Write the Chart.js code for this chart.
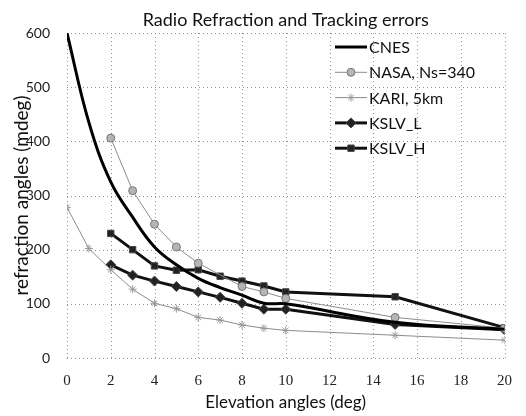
<!DOCTYPE html>
<html>
<head>
<meta charset="utf-8">
<script src="https://cdn.jsdelivr.net/npm/chart.js@4.4.1/dist/chart.umd.min.js"></script>
<style>
  html, body { margin: 0; padding: 0; background: #fff; }
  #wrap { width: 526px; height: 416px; }
</style>
</head>
<body>
<div id="wrap"><canvas id="c" width="526" height="416"></canvas></div>
<script>
// Elevation angles (deg) and refraction angles (mdeg) per model
const cnesX  = [0, 1, 2, 3, 4, 5, 6, 7, 8, 9, 10, 15, 20];
const cnesY  = [600, 435, 325, 260, 205, 172, 147, 130, 116, 101, 100, 66, 53];

const nasaX  = [2, 3, 4, 5, 6, 8, 9, 10, 15, 20];
const nasaY  = [406, 309, 247, 205, 175, 132, 122, 110, 75, 55];

const kariX  = [0, 1, 2, 3, 4, 5, 6, 7, 8, 9, 10, 15, 20];
const kariY  = [278, 202, 163, 127, 101, 91, 75, 70, 61, 55, 51, 42, 33];

const kslvLX = [2, 3, 4, 5, 6, 7, 8, 9, 10, 15, 20];
const kslvLY = [172, 153, 142, 132, 122, 112, 101, 90, 90, 62, 52];

const kslvHX = [2, 3, 4, 5, 6, 7, 8, 9, 10, 15, 20];
const kslvHY = [230, 200, 170, 162, 163, 151, 142, 133, 122, 113, 56];

const seriesNames = ['CNES', 'NASA, Ns=340', 'KARI, 5km', 'KSLV_L', 'KSLV_H'];
const xTicks = [0, 2, 4, 6, 8, 10, 12, 14, 16, 18, 20];
const yTicks = [0, 100, 200, 300, 400, 500, 600];

const pts = (xs, ys) => xs.map((x, i) => ({ x: x, y: ys[i] }));

// Dotted grid at every tick of both scales
const dottedGrid = {
  id: 'dottedGrid',
  beforeDatasetsDraw(chart) {
    const ctx = chart.ctx;
    const a = chart.chartArea;
    const xs = chart.scales.x, ys = chart.scales.y;
    ctx.save();
    ctx.strokeStyle = '#8f8f8f';
    ctx.lineWidth = 1;
    ctx.setLineDash([1, 3]);
    xTicks.forEach(v => {
      const px = Math.round(xs.getPixelForValue(v)) + 0.5;
      ctx.beginPath();
      ctx.moveTo(px, a.top);
      ctx.lineTo(px, a.bottom);
      ctx.stroke();
    });
    yTicks.forEach(v => {
      const py = Math.round(ys.getPixelForValue(v)) + 0.5;
      ctx.beginPath();
      ctx.moveTo(a.left, py);
      ctx.lineTo(a.right, py);
      ctx.stroke();
    });
    ctx.restore();
  }
};

// Legend drawn inside the plot area, upper right
const innerLegend = {
  id: 'innerLegend',
  afterDatasetsDraw(chart) {
    const ctx = chart.ctx;
    const drawPoint = (Chart.helpers && Chart.helpers.drawPoint) ? Chart.helpers.drawPoint : null;
    ctx.save();
    chart.data.datasets.forEach((ds, i) => {
      const y = 47 + i * 25.3;
      const x0 = 335, x1 = 367;
      ctx.setLineDash([]);
      ctx.strokeStyle = ds.borderColor;
      ctx.lineWidth = ds.borderWidth;
      ctx.beginPath();
      ctx.moveTo(x0, y);
      ctx.lineTo(x1, y);
      ctx.stroke();
      if (ds.pointRadius > 0 && drawPoint) {
        ctx.fillStyle = ds.pointBackgroundColor;
        ctx.strokeStyle = ds.pointBorderColor;
        ctx.lineWidth = ds.pointBorderWidth;
        drawPoint(ctx, { pointStyle: ds.pointStyle, radius: ds.pointRadius, rotation: 0, borderWidth: ds.pointBorderWidth }, (x0 + x1) / 2, y);
      }
      ctx.fillStyle = '#111';
      ctx.font = '16px Lato, "Open Sans", sans-serif';
      ctx.textBaseline = 'middle';
      ctx.textAlign = 'left';
      ctx.fillText(ds.label, 369, y + 1);
    });
    ctx.restore();
  }
};

new Chart(document.getElementById('c'), {
  type: 'scatter',
  data: {
    datasets: [
      {
        label: seriesNames[0],
        data: pts(cnesX, cnesY),
        showLine: true,
        borderColor: '#000',
        borderWidth: 3,
        pointRadius: 0,
        pointStyle: 'circle',
        pointBackgroundColor: '#000',
        pointBorderColor: '#000',
        pointBorderWidth: 1,
        tension: 0.4
      },
      {
        label: seriesNames[1],
        data: pts(nasaX, nasaY),
        showLine: true,
        borderColor: '#8c8c8c',
        borderWidth: 1,
        pointRadius: 4,
        pointStyle: 'circle',
        pointBackgroundColor: '#b5b5b5',
        pointBorderColor: '#777',
        pointBorderWidth: 1,
        tension: 0
      },
      {
        label: seriesNames[2],
        data: pts(kariX, kariY),
        showLine: true,
        borderColor: '#8c8c8c',
        borderWidth: 1,
        pointRadius: 4,
        pointStyle: 'star',
        pointBackgroundColor: '#9a9a9a',
        pointBorderColor: '#9a9a9a',
        pointBorderWidth: 1,
        tension: 0
      },
      {
        label: seriesNames[3],
        data: pts(kslvLX, kslvLY),
        showLine: true,
        borderColor: '#111',
        borderWidth: 3,
        pointRadius: 5,
        pointStyle: 'rectRot',
        pointBackgroundColor: '#222',
        pointBorderColor: '#444',
        pointBorderWidth: 1,
        tension: 0
      },
      {
        label: seriesNames[4],
        data: pts(kslvHX, kslvHY),
        showLine: true,
        borderColor: '#111',
        borderWidth: 3,
        pointRadius: 4.5,
        pointStyle: 'rect',
        pointBackgroundColor: '#222',
        pointBorderColor: '#444',
        pointBorderWidth: 1,
        tension: 0
      }
    ]
  },
  options: {
    responsive: false,
    animation: false,
    layout: { padding: { left: 0, right: 21, top: 0, bottom: 0 } },
    plugins: {
      legend: { display: false },
      tooltip: { enabled: false },
      title: {
        display: true,
        text: 'Radio Refraction and Tracking errors',
        fullSize: false,
        color: '#111',
        font: { family: 'Lato, "Open Sans", sans-serif', size: 18, weight: 'normal', lineHeight: 1.2 },
        padding: { top: 9, bottom: 2.4 }
      }
    },
    scales: {
      x: {
        type: 'linear',
        min: 0,
        max: 20,
        afterBuildTicks: (s) => { s.ticks = xTicks.map(v => ({ value: v })); },
        afterFit: (s) => { s.height = 58; },
        grid: { display: false, drawTicks: false },
        border: { display: false },
        ticks: {
          padding: 14,
          color: '#222',
          font: { family: '"Liberation Serif", serif', size: 15 },
          maxRotation: 0
        },
        title: {
          display: true,
          text: 'Elevation angles (deg)',
          color: '#111',
          font: { family: 'Lato, "Open Sans", sans-serif', size: 17, lineHeight: 1.2 },
          padding: { top: 0, bottom: 3 }
        }
      },
      y: {
        type: 'linear',
        min: 0,
        max: 600,
        afterBuildTicks: (s) => { s.ticks = yTicks.map(v => ({ value: v })); },
        afterFit: (s) => { s.width = 67; },
        grid: { display: false, drawTicks: false },
        border: { display: false },
        ticks: {
          padding: 17,
          color: '#222',
          font: { family: 'Lato, "Open Sans", sans-serif', size: 14 }
        },
        title: {
          display: true,
          text: 'refraction angles (mdeg)',
          color: '#111',
          font: { family: 'Lato, "Open Sans", sans-serif', size: 19, lineHeight: 1.2 },
          padding: { top: 10, bottom: 0 }
        }
      }
    }
  },
  plugins: [dottedGrid, innerLegend]
});
</script>
</body>
</html>
